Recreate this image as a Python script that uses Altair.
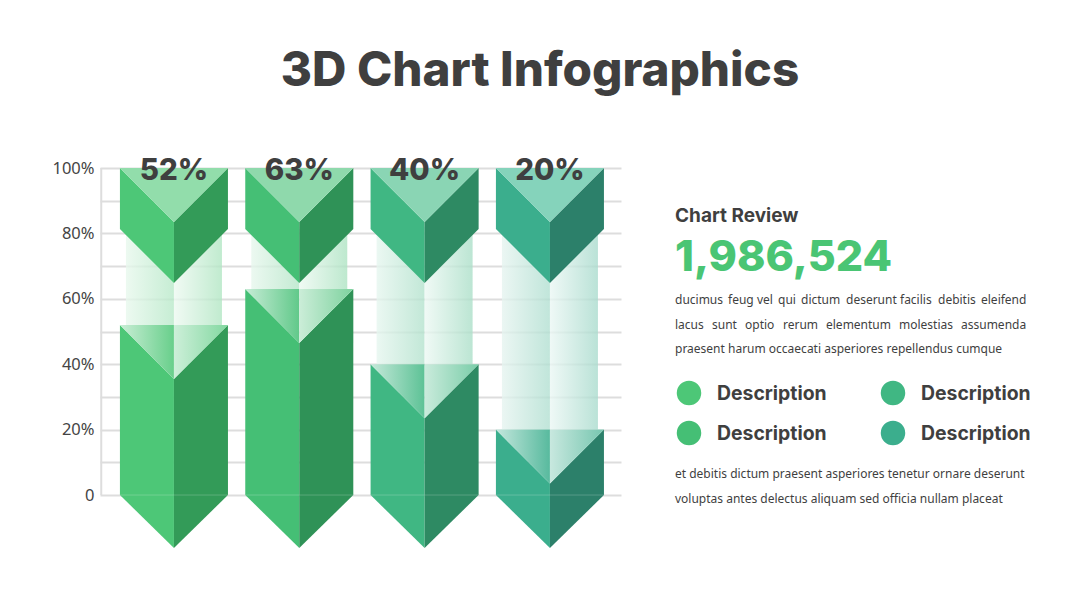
import altair as alt
import pandas as pd

# ---- data ----
categories = ["A", "B", "C", "D"]
values = [52, 63, 40, 20]
left_colors = ["#4DC777", "#45BF75", "#40B783", "#3BAE8D"]
right_colors = ["#339B58", "#2F9257", "#2E8A63", "#2C806A"]
cap_colors = ["#92DDAB", "#8FD9AC", "#8AD5B4", "#85D3BB"]
tick_values = [0, 10, 20, 30, 40, 50, 60, 70, 80, 90, 100]
title = "3D Chart Infographics"
review_label = "Chart Review"
review_number = "1,986,524"
paragraph_top = [
    "ducimus feug vel qui dictum deserunt facilis debitis eleifend",
    "lacus sunt optio rerum elementum molestias assumenda",
    "praesent harum occaecati asperiores repellendus cumque",
]
paragraph_bottom = [
    "et debitis dictum praesent asperiores tenetur ornare deserunt",
    "voluptas antes delectus aliquam sed officia nullam placeat",
]
legend_labels = ["Description"] * 4

HEAD = "Inter"
BODY = "Noto Sans"
DARK = "#3F3F3F"

# geometry in data units
HALF = 0.431      # half a column, in column units
INSET = 0.048     # ghost column inset
SLOPE = 16.5      # drop of a chevron, in percent units
CAP = 18.65       # side height of the top chevron
TIP = -16.2       # lowest point of the arrow

xs = alt.Scale(domain=[-0.59, 3.567], nice=False, zero=False)
ys = alt.Scale(domain=[TIP, 100], nice=False, zero=False)


def mix(hex_color, white):
    r, g, b = (int(hex_color[i:i + 2], 16) for i in (1, 3, 5))
    f = lambda c: round(c + (255 - c) * white)
    return f"#{f(r):02X}{f(g):02X}{f(b):02X}"


def grad(c0, c1):
    return alt.LinearGradient(
        gradient="linear", x1=0, x2=1, y1=0, y2=0,
        stops=[alt.GradientStop(color=c0, offset=0), alt.GradientStop(color=c1, offset=1)],
    )


def face(xv, tops, bots, **mark):
    df = pd.DataFrame({"x": xv, "t": tops, "b": bots})
    return alt.Chart(df).mark_area(orient="vertical", interpolate="linear", **mark).encode(
        x=alt.X("x:Q", scale=xs, axis=None),
        y=alt.Y("t:Q", scale=ys, axis=None),
        y2="b:Q",
    )


one = alt.Data(values=[{"k": 1}])


def label(text, px, py, size, font=BODY, weight=400, color=DARK):
    return alt.Chart(one).mark_text(
        font=font, fontSize=size, fontWeight=weight, color=color, align="left", baseline="alphabetic"
    ).encode(x=alt.value(px - 100), y=alt.value(py - 168), text=alt.value(text))


layers = []

# grid and axis
base = alt.Chart(pd.DataFrame({"v": tick_values})).mark_rule(opacity=0).encode(
    y=alt.Y(
        "v:Q", scale=ys, title=None,
        axis=alt.Axis(
            values=tick_values, grid=True, gridColor="#DDDDDD", gridWidth=2, domain=False, ticks=False,
            labelExpr="datum.value % 20 ? '' : (datum.value == 0 ? '0' : datum.value + '%')",
            labelFont=BODY, labelFontSize=16.5, labelColor="#444444", labelPadding=6, labelOverlap=False,
            labelFlush=False,
        ),
    )
)
layers.append(base)

# left vertical line of the grid
layers.append(
    alt.Chart(pd.DataFrame({"x": [-0.58], "a": [0], "b": [100]})).mark_rule(color="#DDDDDD", size=2).encode(
        x=alt.X("x:Q", scale=xs, axis=None), y=alt.Y("a:Q", scale=ys, axis=None), y2="b:Q"
    )
)

for i, v in enumerate(values):
    xl, xr = i - HALF, i + HALF
    L, R, C = left_colors[i], right_colors[i], cap_colors[i]
    # ghost column rising from the value to the top chevron
    layers.append(face([xl + INSET, i], [82, 82], [v, v], color=grad(mix(L, 0.87), mix(L, 0.6)), opacity=0.8))
    layers.append(face([i, xr - INSET], [82, 82], [v, v], color=grad(mix(L, 0.9), mix(L, 0.56)), opacity=0.8))
    # body with arrow tip
    layers.append(face([xl, i], [v, v - SLOPE], [0, TIP], color=L))
    layers.append(face([i, xr], [v - SLOPE, v], [TIP, 0], color=R))
    # lit notch on top of the body
    layers.append(face([xl, i], [v, v], [v, v - SLOPE], color=grad(mix(L, 0.7), mix(L, 0.15))))
    layers.append(face([i, xr], [v, v], [v - SLOPE, v], color=grad(mix(L, 0.72), mix(L, 0.3))))
    # top chevron
    layers.append(face([xl, i], [100, 100 - SLOPE], [100 - CAP, 100 - CAP - SLOPE], color=L))
    layers.append(face([i, xr], [100 - SLOPE, 100], [100 - CAP - SLOPE, 100 - CAP], color=R))
    layers.append(face([xl, i, xr], [100, 100, 100], [100, 100 - SLOPE, 100], color=C))
    # seam where the body meets the arrow tip
    layers.append(
        alt.Chart(pd.DataFrame({"a": [xl], "b": [xr], "y": [0]})).mark_rule(color="#FFFFFF", opacity=0.2, size=1).encode(
            x=alt.X("a:Q", scale=xs, axis=None), x2="b:Q", y=alt.Y("y:Q", scale=ys, axis=None)
        )
    )

# percentage labels
pct = pd.DataFrame({"i": range(4), "v": values, "t": [f"{v}%" for v in values], "top": [100] * 4})
layers.append(
    alt.Chart(pct).mark_text(
        font=HEAD, fontSize=29.5, fontWeight=800, color=DARK, align="center", baseline="alphabetic", dy=11.5
    ).encode(
        x=alt.X("i:Q", scale=xs, axis=None), y=alt.Y("top:Q", scale=ys, axis=None), text="t:N"
    )
)

# right panel
layers.append(label(review_label, 675, 222, 19, HEAD, 700))
layers.append(label(review_number, 675, 271, 43, HEAD, 800, "#4AC574"))

# the first two lines of the paragraph are justified: each word has its own start
justified_starts = [
    [675, 728, 757, 778, 801, 846, 900, 938, 981],
    [675, 712, 745, 783, 826, 899, 961],
]
for line, starts, py in zip(paragraph_top[:2], justified_starts, [304, 329]):
    for word, px in zip(line.split(), starts):
        layers.append(label(word, px, py, 12))
layers.append(label(paragraph_top[2], 675, 353, 12))
for text, py in zip(paragraph_bottom, [478, 503]):
    layers.append(label(text, 675, py, 12))

legend_pos = [(689, 393), (893, 393), (689, 433), (893, 433)]
for (px, py), c, text in zip(legend_pos, [left_colors[0], left_colors[2], left_colors[1], left_colors[3]], legend_labels):
    layers.append(
        alt.Chart(one).mark_circle(color=c, opacity=1, size=600).encode(x=alt.value(px - 100), y=alt.value(py - 168))
    )
    layers.append(label(text, px + 28, py + 7, 19.4, HEAD, 700))

chart = alt.layer(*layers).resolve_axis(y="independent").properties(
    width=521,
    height=380,
    autosize=alt.AutoSizeParams(type="none"),
    padding={"left": 92, "top": 160, "right": 440, "bottom": 40},
    title=alt.TitleParams(
        title, font=HEAD, fontSize=47.6, fontWeight=800, color=DARK, anchor="middle", frame="group",
        dx=179.5, offset=60,
    ),
).configure_view(stroke=None)

chart.save("out.html", embed_options={"renderer": "svg", "actions": False})
